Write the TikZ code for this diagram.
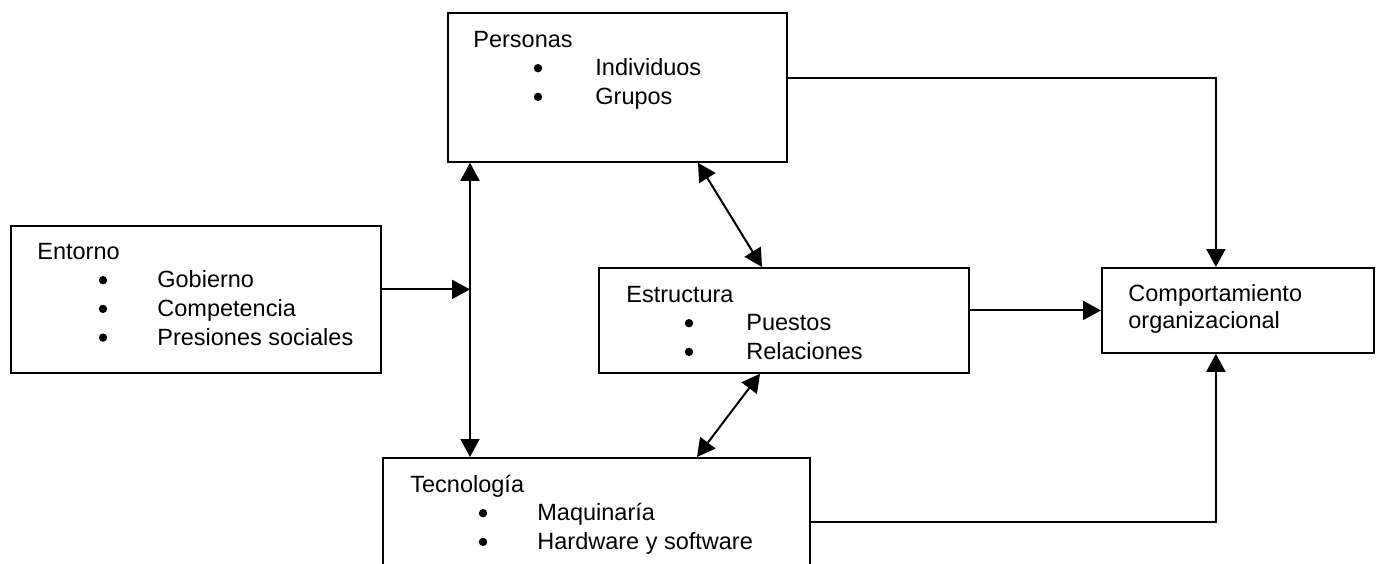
\documentclass[tikz,border=0pt]{standalone}
\usepackage{fontspec}
\setmainfont{Liberation Sans}
\usepackage{tikz}
\usetikzlibrary{arrows.meta,calc}
\tikzstyle{block} = [draw,line width=0.9pt,inner sep=0pt,anchor=north west]
\tikzstyle{txt} = [inner sep=0pt,anchor=base west,font=\fontsize{11.75pt}{13pt}\selectfont]
\tikzstyle{bul} = [circle,fill,inner sep=0pt,minimum size=4.2pt]
\tikzstyle{arrow} = [line width=1pt,-{Triangle[length=9pt,width=9.5pt]}]
\tikzstyle{dblarrow} = [line width=1pt,{Triangle[length=9pt,width=9.5pt]}-{Triangle[length=9pt,width=9.5pt]}]

\begin{document}
\begin{tikzpicture}[x=0.5pt,y=-0.5pt]
	\useasboundingbox (0,0) rectangle (1378,563);
	\clip (0,0) rectangle (1378,563);
	
	% Boxes:
	\node[block,minimum width=169.5pt,minimum height=74.5pt] (pers) at (447,12) {};
	\node[block,minimum width=185pt,minimum height=73.5pt] (ento) at (10,225) {};
	\node[block,minimum width=185pt,minimum height=52.5pt] (estr) at (598,267) {};
	\node[block,minimum width=213.5pt,minimum height=64pt] (tecn) at (382,457) {};
	\node[block,minimum width=136pt,minimum height=42.5pt] (comp) at (1101,267) {};
	
	% Texts:
	\node[txt] (pers-t) at (473,47) {Personas};
	\foreach \t [count=\i] in {Individuos,Grupos}
	{
		\node[bul] (pers-b\i) at (538,39.5+28.7*\i) {};
		\node[txt] (pers-i\i) at (595,47+28.7*\i) {\t};
	}
	
	\node[txt] (ento-t) at (37,259) {Entorno};
	\foreach \t [count=\i] in {Gobierno,Competencia,Presiones sociales}
	{
		\node[bul] (ento-b\i) at (103,251.5+28.7*\i) {};
		\node[txt] (ento-i\i) at (157,259+28.7*\i) {\t};
	}
	
	\node[txt] (estr-t) at (626,302) {Estructura};
	\foreach \t [count=\i] in {Puestos,Relaciones}
	{
		\node[bul] (estr-b\i) at (689,294.5+28.7*\i) {};
		\node[txt] (estr-i\i) at (746,302+28.7*\i) {\t};
	}
	
	\node[txt] (tecn-t) at (410,492) {Tecnología};
	\foreach \t [count=\i] in {Maquinaría,Hardware y software}
	{
		\node[bul] (tecn-b\i) at (483,484.5+28.7*\i) {};
		\node[txt] (tecn-i\i) at (537,492+28.7*\i) {\t};
	}
	
	\node[txt] (comp-1) at (1128,301) {Comportamiento};
	\node[txt] (comp-2) at (1128,328) {organizacional};
	
	% Connectors:
	\coordinate (vtop) at ($(pers.south west)+(23,0)$);
	\coordinate (vbot) at (vtop |- tecn.north);
	\draw[dblarrow] (vtop) -- (vbot);
	\draw[arrow] ([yshift=5pt]ento.east) -- ([yshift=5pt]ento.east -| vtop);
	
	\draw[dblarrow] ($(pers.south west)+(251,0)$) -- ($(estr.north west)+(164,0)$);
	\draw[dblarrow] ($(estr.south west)+(162,0)$) -- ($(tecn.north west)+(315,0)$);
	
	\draw[arrow] (comp.west -| estr.east) -- (comp.west);
	\draw[arrow] ([yshift=4.75pt]pers.east) -| ([xshift=-11pt]comp.north);
	\draw[arrow] (tecn.east) -| ([xshift=-11pt]comp.south);
	
\end{tikzpicture}
\end{document}
